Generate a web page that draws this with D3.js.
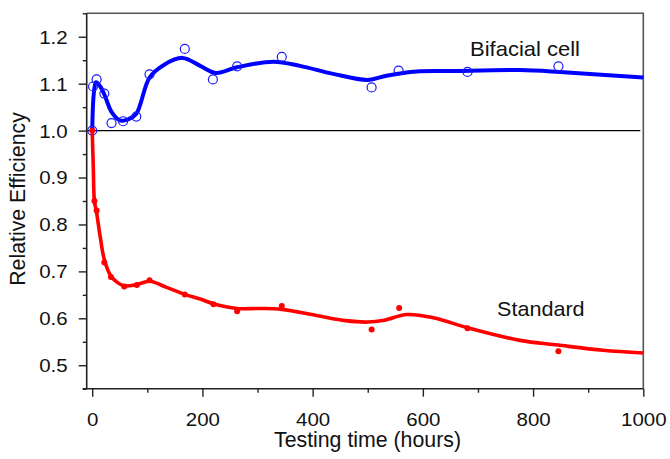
<!DOCTYPE html>
<html>
<head>
<meta charset="utf-8">
<script src="https://cdn.jsdelivr.net/npm/d3@7"></script>
<style>
  html, body { margin: 0; padding: 0; background: #fff; }
  svg { display: block; font-family: "Liberation Sans", Arial, Helvetica, sans-serif; }
</style>
</head>
<body>
<svg id="chart" width="670" height="459"></svg>
<script>
// Measured points: bifacial cell (open circles)
const bifacialHours = [0, 1.5, 8, 22, 35, 56, 80, 104, 168, 219, 263, 344, 507, 556, 681, 846];
const bifacialEff   = [1.0, 1.094, 1.109, 1.079, 1.016, 1.02, 1.03, 1.12, 1.174, 1.109, 1.137, 1.157, 1.092, 1.128, 1.125, 1.137];

// Measured points: standard cell (filled dots)
const standardHours = [0, 4, 8, 22, 34, 58, 81, 104, 168, 220, 263, 344, 507, 557, 681, 846];
const standardEff   = [1.0, 0.85, 0.83, 0.719, 0.688, 0.668, 0.671, 0.681, 0.651, 0.630, 0.615, 0.626, 0.576, 0.622, 0.579, 0.530];

// Smoothed trend lines
const bifacialFitHours = [0, 3, 7, 14, 22, 35, 50, 65, 80, 104, 130, 164, 196, 224, 263, 329, 377, 437, 500, 534, 589, 649, 776, 849, 1000];
const bifacialFitEff   = [1.0, 1.08, 1.103, 1.095, 1.077, 1.04, 1.022, 1.024, 1.036, 1.113, 1.14, 1.155, 1.138, 1.123, 1.135, 1.147, 1.138, 1.121, 1.108, 1.117, 1.126, 1.127, 1.129, 1.125, 1.113];

const standardFitHours = [0, 2, 4, 8, 15, 22, 34, 46, 58, 81, 104, 135, 168, 196, 220, 263, 305, 344, 407, 460, 500, 530, 571, 619, 681, 776, 845, 927, 1000];
const standardFitEff   = [1.0, 0.92, 0.85, 0.825, 0.77, 0.725, 0.69, 0.676, 0.669, 0.672, 0.679, 0.666, 0.651, 0.641, 0.631, 0.621, 0.621, 0.619, 0.606, 0.595, 0.592, 0.596, 0.608, 0.601, 0.580, 0.553, 0.543, 0.532, 0.526];

// Axis ticks
const xMajorTicks = [0, 200, 400, 600, 800, 1000];
const xMinorTicks = [100, 300, 500, 700, 900];
const yMajorTicks = [0.5, 0.6, 0.7, 0.8, 0.9, 1.0, 1.1, 1.2];
const yMinorTicks = [0.45, 0.55, 0.65, 0.75, 0.85, 0.95, 1.05, 1.15, 1.25];

const seriesLabels = ["Bifacial cell", "Standard"];
const xTitle = "Testing time (hours)";
const yTitle = "Relative Efficiency";

const svg = d3.select("#chart");
const plotLeft = 86.7, plotRight = 643.3, plotTop = 13.3, plotBottom = 388.7;

const x = d3.scaleLinear().domain([-10, 1000]).range([plotLeft, plotRight]);
const y = d3.scaleLinear().domain([0.45, 1.25]).range([plotBottom, plotTop]);

const zip = (a, b) => a.map((v, i) => [v, b[i]]);

// Frame: top and right edges in grey
svg.append("path")
  .attr("d", `M${plotLeft},${plotTop}H${plotRight}V${plotBottom}`)
  .attr("fill", "none").attr("stroke", "#555").attr("stroke-width", 1.6);

// Reference line at 1.0
svg.append("line")
  .attr("x1", plotLeft).attr("x2", plotRight - 3)
  .attr("y1", y(1.0)).attr("y2", y(1.0))
  .attr("stroke", "#000").attr("stroke-width", 1.2);

// Bottom axis
const xAxisMajor = d3.axisBottom(x).tickValues(xMajorTicks).tickSize(8).tickFormat(d3.format("d"));
const xAxisMinor = d3.axisBottom(x).tickValues(xMinorTicks).tickSize(4).tickFormat("");
const gxMinor = svg.append("g").attr("transform", `translate(0,${plotBottom})`).call(xAxisMinor);
const gx = svg.append("g").attr("transform", `translate(0,${plotBottom})`).call(xAxisMajor);

// Left axis
const yAxisMajor = d3.axisLeft(y).tickValues(yMajorTicks).tickSize(8).tickFormat(d3.format(".1f"));
const yAxisMinor = d3.axisLeft(y).tickValues(yMinorTicks).tickSize(4).tickFormat("");
const gyMinor = svg.append("g").attr("transform", `translate(${plotLeft},0)`).call(yAxisMinor);
const gy = svg.append("g").attr("transform", `translate(${plotLeft},0)`).call(yAxisMajor);

[gx, gxMinor, gy, gyMinor].forEach(g => {
  g.select(".domain").remove();
  g.selectAll(".tick line").attr("stroke", "#222").attr("stroke-width", 1.4);
});

// Axis lines
svg.append("line").attr("x1", plotLeft - 4).attr("x2", plotRight).attr("y1", plotBottom).attr("y2", plotBottom)
  .attr("stroke", "#222").attr("stroke-width", 1.6);
svg.append("line").attr("x1", plotLeft).attr("x2", plotLeft).attr("y1", plotTop).attr("y2", plotBottom)
  .attr("stroke", "#222").attr("stroke-width", 1.6);

// Tick labels, slightly widened
gx.selectAll(".tick text")
  .attr("font-size", 17.5).attr("fill", "#111")
  .attr("font-family", "Liberation Sans, Arial, sans-serif")
  .attr("x", 0).attr("y", 0).attr("dy", null)
  .attr("text-anchor", "middle")
  .attr("transform", "translate(0,37) scale(1.17,1)");
gy.selectAll(".tick text")
  .attr("font-size", 17.5).attr("fill", "#111")
  .attr("font-family", "Liberation Sans, Arial, sans-serif")
  .attr("x", 0).attr("y", 0).attr("dy", null)
  .attr("text-anchor", "end")
  .attr("transform", "translate(-19,6.4) scale(1.17,1)");

// Trend lines
const line = d3.line().x(d => x(d[0])).y(d => y(d[1])).curve(d3.curveCatmullRom.alpha(0.5));

svg.append("path")
  .datum(zip(bifacialFitHours, bifacialFitEff))
  .attr("d", line).attr("fill", "none")
  .attr("stroke", "#0000ff").attr("stroke-width", 4).attr("stroke-linejoin", "round");

svg.append("g").selectAll("circle")
  .data(zip(bifacialHours, bifacialEff))
  .join("circle")
  .attr("cx", d => x(d[0])).attr("cy", d => y(d[1])).attr("r", 4.5)
  .attr("fill", "none").attr("stroke", "#1a1aff").attr("stroke-width", 1.2);

svg.append("path")
  .datum(zip(standardFitHours, standardFitEff))
  .attr("d", line).attr("fill", "none")
  .attr("stroke", "#ff0000").attr("stroke-width", 3.6).attr("stroke-linejoin", "round");

svg.append("g").selectAll("circle")
  .data(zip(standardHours, standardEff))
  .join("circle")
  .attr("cx", d => x(d[0])).attr("cy", d => y(d[1])).attr("r", 3)
  .attr("fill", "#ff0000");

// Series labels
svg.append("text")
  .attr("transform", "translate(470,56) scale(1.1,1)")
  .attr("font-size", 20).attr("fill", "#111")
  .text(seriesLabels[0]);
svg.append("text")
  .attr("transform", "translate(497,316) scale(1.08,1)")
  .attr("font-size", 20).attr("fill", "#111")
  .text(seriesLabels[1]);

// Axis titles
svg.append("text")
  .attr("x", 367.5).attr("y", 447)
  .attr("text-anchor", "middle")
  .attr("font-size", 21.3).attr("fill", "#111")
  .text(xTitle);
svg.append("text")
  .attr("transform", "translate(25,199) rotate(-90)")
  .attr("text-anchor", "middle")
  .attr("font-size", 21.3).attr("fill", "#111")
  .text(yTitle);
</script>
</body>
</html>
